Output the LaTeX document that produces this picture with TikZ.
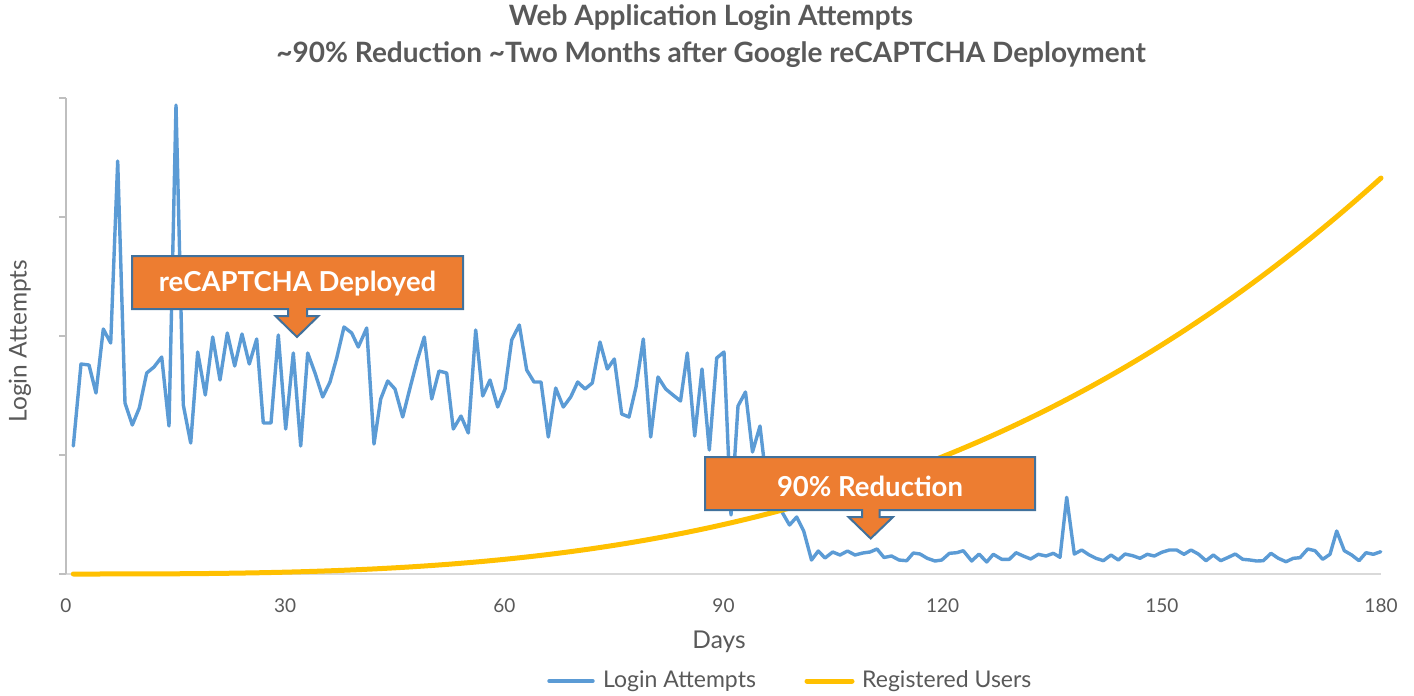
\documentclass[tikz,border=0pt]{standalone}
\usepackage{fontspec}
\setmainfont{Lato}
\definecolor{blueS}{HTML}{5B9BD5}
\definecolor{yelS}{HTML}{FFC000}
\definecolor{orangeS}{HTML}{ED7D31}
\definecolor{edgeS}{HTML}{41719C}
\definecolor{txtS}{HTML}{595959}
\definecolor{axisS}{HTML}{BFBFBF}
\definecolor{baseS}{HTML}{D9D9D9}
\begin{document}
\begin{tikzpicture}[x=1pt,y=-1pt,
  blueline/.style={draw=blueS,line width=3.4pt,line join=round,line cap=round},
  yelline/.style={draw=yelS,line width=5pt,line join=round,line cap=round},
  calloutbox/.style={fill=orangeS,draw=edgeS,line width=2pt,line join=miter},
  calltext/.style={text=white,font=\fontsize{27.5}{32}\selectfont\bfseries,inner sep=0pt},
  titletext/.style={text=txtS,font=\fontsize{28}{32}\selectfont\bfseries,inner sep=0pt},
  ticktext/.style={text=txtS,font=\fontsize{19}{22}\selectfont,inner sep=0pt},
  labeltext/.style={text=txtS,font=\fontsize{24.5}{28}\selectfont,inner sep=0pt},
  legtext/.style={text=txtS,font=\fontsize{23}{26}\selectfont,inner sep=0pt,anchor=west}]
\useasboundingbox (0,0) rectangle (1414,696);
\fill[white] (0,0) rectangle (1414,696);
% title
\node[titletext] (t1) at (711,18) {Web Application Login Attempts};
\node[titletext] (t2) at (711,55) {\textasciitilde 90\% Reduction \textasciitilde Two Months after Google reCAPTCHA Deployment};
% axes
\draw[baseS,line width=2pt] (66,574) -- (1381,574);
\draw[axisS,line width=1.5pt] (66,98) -- (66,574);
\foreach \yy in {98,217,336,455,574} \draw[axisS,line width=1.5pt] (59,\yy) -- (66,\yy);
\foreach \d in {0,30,60,90,120,150,180}
  \node[ticktext] (xt\d) at ({66+7.3056*\d},606) {\d};
\node[labeltext] (xl) at (719,642) {Days};
\node[labeltext,rotate=90] (yl) at (20,341) {Login Attempts};
% login attempts
\draw[blueline] plot coordinates {
(73.3,446) (81,364) (89,365) (96,393) (103.3,329) (110.7,343) (117.7,161) (125,403)
(132.3,425) (139.3,408) (146.7,373) (154,367) (161.7,357) (169,426) (176,105) (183.3,405)
(190.7,443) (197.7,352) (205.3,395) (212.7,337) (220,380) (227.3,333) (234.7,366) (242,334)
(249.3,364) (256.7,339) (263.3,423) (271,423) (278.3,335) (285.7,429) (293.3,353) (300.7,446)
(307.7,353) (315,373) (322.7,397) (330,382) (336.7,358) (344,327) (351.7,333) (358.3,347)
(366.7,328) (374,444) (380.7,399) (387.7,381) (395,389) (402.7,417) (410,388) (417.3,360)
(424.3,337) (431.7,399) (439,371) (446.7,373) (453.3,429) (461,416) (468.3,433) (475.7,330)
(482.7,396) (490,380) (497.7,407) (505,389) (511.7,340) (519.3,325) (526.7,370) (534,382)
(541,382) (548.3,437) (555.7,388) (563.3,407) (570.7,397) (577.7,382) (585,389) (592.3,383)
(600,342) (607.3,369) (614.3,359) (621.7,414) (629,417) (636,387) (643.3,339) (650.7,437)
(658,377) (665.7,389) (673,395) (680.5,401) (687.3,353) (694.7,436) (702,369) (709.3,450)
(716.7,358) (724,352) (731,515) (738,406) (745.5,392) (752.5,452) (760,426) (767.4,490)
(774.7,500) (782,512) (789.5,525) (796.7,517) (803.7,531) (811.5,560) (818.3,551) (825,558)
(832.7,552) (840,555) (847.5,551) (855,555) (862.7,553) (870,552) (877,549) (884,557.5)
(891.5,556) (899,560) (906.7,560.7) (913.3,553) (920,554) (927.3,558.3) (935,561) (941.7,560)
(949.3,553.3) (956.7,552.7) (963.3,550.7) (971.7,561) (979,554) (986.7,562) (993.3,554.3) (1001.7,559.3)
(1009.3,559.3) (1016,552.7) (1023.3,556) (1030.7,559) (1038.3,554.3) (1046,556) (1053.3,553.3) (1060,557.3)
(1066.7,497.3) (1074.3,554) (1081.7,550) (1089.3,555) (1096,558.3) (1103.3,560.7) (1111,555) (1118.3,560)
(1125,554) (1132.7,555.7) (1140,558.3) (1147.3,554.3) (1154.3,556) (1161.7,552.3) (1169.3,550) (1176.7,550)
(1184,554.3) (1191,550) (1198.3,554) (1206,560.7) (1213.3,555) (1220.7,560.7) (1228.3,557.3) (1235.3,554)
(1242.7,559.3) (1250,560) (1256.7,561) (1263.3,560.7) (1271,553.3) (1278.3,558.3) (1286,561.7) (1293.3,558.3)
(1300,557.7) (1307.7,549) (1315,550.7) (1322.7,559.3) (1330,554.3) (1336.7,531) (1344.3,550.7) (1351.7,555)
(1359,560.7) (1366,552.7) (1373.3,554.3) (1380.7,551.7)};
% registered users
\draw[yelline] plot[domain=1:180,samples=150] ({66+7.3056*\x},{574-396*pow(\x/180,3)});
% callout 1
\draw[calloutbox] (132,256) -- (463,256) -- (463,309) -- (307,309) -- (307,316) -- (318.5,316)
  -- (297,337) -- (275.5,316) -- (288,316) -- (288,309) -- (132,309) -- cycle;
\node[calltext] (c1) at (297.5,284) {reCAPTCHA Deployed};
% callout 2
\draw[calloutbox] (705,457) -- (1035,457) -- (1035,510) -- (879.5,510) -- (879.5,517) -- (893,517)
  -- (870.7,538.5) -- (848.5,517) -- (862,517) -- (862,510) -- (705,510) -- cycle;
\node[calltext] (c2) at (870,486) {90\% Reduction};
% legend
\coordinate (lb1) at (549,681); \coordinate (lb2) at (593,681);
\coordinate (ly1) at (807,681); \coordinate (ly2) at (852,681);
\draw[blueline] (lb1) -- (lb2);
\node[legtext] (lt1) at (603,681) {Login Attempts};
\draw[yelline] (ly1) -- (ly2);
\node[legtext] (lt2) at (862,681) {Registered Users};
\end{tikzpicture}
\end{document}
